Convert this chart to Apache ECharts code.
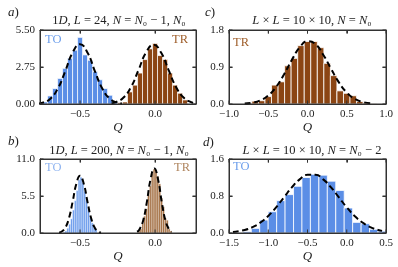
<!DOCTYPE html>
<html><head><meta charset="utf-8">
<script src="https://cdn.jsdelivr.net/npm/echarts@6.0.0/dist/echarts.min.js"></script>
<style>html,body{margin:0;padding:0;background:#fff}#c{width:398px;height:267px}</style>
</head><body><div id="c"></div>
<script>
// ---------- data ----------
// panel a (1D, L=24)
const aBinWidth = 1/30;
const aTOCenters = [-0.767,-0.733,-0.700,-0.667,-0.633,-0.600,-0.567,-0.533,-0.500,-0.467,-0.433,-0.400,-0.367,-0.333,-0.300,-0.267];
const aTOHeights = [0.05,0.15,0.6,1.15,1.9,2.65,3.4,4.0,4.95,3.65,3.25,2.4,1.8,1.15,0.65,0.2];
const aTRCenters = [-0.233,-0.200,-0.167,-0.133,-0.100,-0.067,-0.033,0.000,0.033,0.067,0.100,0.133,0.167,0.200];
const aTRHeights = [0.1,0.15,0.9,1.4,2.3,3.3,4.1,4.5,3.6,3.3,2.3,1.4,0.8,0.3];
const aTOCurveQ = [-0.78,-0.75,-0.7,-0.65,-0.6,-0.55,-0.5,-0.45,-0.4,-0.35,-0.3,-0.25,-0.22];
const aTOCurveP = [0.035,0.094,0.376,1.11,2.40,3.81,4.45,3.81,2.40,1.11,0.376,0.094,0.035];
const aTRCurveQ = [-0.29,-0.26,-0.21,-0.16,-0.11,-0.06,-0.01,0.04,0.09,0.14,0.19,0.24,0.27];
const aTRCurveP = [0.057,0.138,0.48,1.26,2.53,3.83,4.4,3.83,2.53,1.26,0.48,0.138,0.057];
// panel b (1D, L=200)
const bBinWidth = 0.0125;
const bTOCenters = [-0.60625,-0.59375,-0.58125,-0.56875,-0.55625,-0.54375,-0.53125,-0.51875,-0.50625,-0.49375,-0.48125,-0.46875,-0.45625,-0.44375,-0.43125,-0.41875,-0.40625,-0.39375];
const bTOHeights = [0.1,0.3,0.7,1.3,2.1,3.4,4.8,6.3,7.9,8.3,7.5,6.2,4.9,3.6,2.3,1.5,0.8,0.5];
const bTRCenters = [-0.10625,-0.09375,-0.08125,-0.06875,-0.05625,-0.04375,-0.03125,-0.01875,-0.00625,0.00625,0.01875,0.03125,0.04375,0.05625,0.06875,0.08125,0.09375,0.10625];
const bTRHeights = [0.3,0.6,1.4,2.5,3.6,5.6,7.0,8.8,9.5,9.2,8.4,7.3,5.2,3.9,2.2,1.9,0.6,0.3];
const bTOCurveQ = [-0.64,-0.625,-0.6,-0.575,-0.55,-0.525,-0.5,-0.475,-0.45,-0.425,-0.4,-0.375,-0.36];
const bTOCurveP = [0.067,0.18,0.72,2.12,4.59,7.29,8.5,7.29,4.59,2.12,0.72,0.18,0.067];
const bTRCurveQ = [-0.12,-0.105,-0.08,-0.055,-0.03,-0.005,0.02,0.045,0.07,0.095,0.11];
const bTRCurveP = [0.19,0.49,1.80,4.56,7.97,9.6,7.97,4.56,1.80,0.49,0.19];
// panel c (10x10, N=N0)
const cBinWidth = 1/12;
const cTRCenters = [-0.75,-0.667,-0.583,-0.5,-0.417,-0.333,-0.25,-0.167,-0.083,0,0.083,0.167,0.25,0.333,0.417,0.5,0.583,0.667,0.75,0.833];
const cTRHeights = [0.02,0.07,0.08,0.18,0.46,0.54,0.93,1.11,1.42,1.52,1.52,1.37,0.99,0.69,0.32,0.26,0.2,0.06,0.03,0.01];
const cCurveQ = [-0.8,-0.7,-0.6,-0.5,-0.4,-0.3,-0.2,-0.1,0,0.1,0.2,0.3,0.4,0.5,0.6,0.7,0.8];
const cCurveP = [0.011,0.033,0.089,0.207,0.416,0.717,1.07,1.375,1.525,1.46,1.20,0.857,0.525,0.279,0.127,0.050,0.017];
// panel d (10x10, N=N0-2)
const dBinWidth = 0.1076;
const dTOCenters = [-1.378,-1.270,-1.162,-1.055,-0.947,-0.839,-0.732,-0.624,-0.517,-0.409,-0.301,-0.194,-0.086,0.021,0.129,0.237,0.344,0.452];
const dTOHeights = [0.01,0.03,0.1,0.28,0.46,0.70,0.83,1.01,1.20,1.27,1.25,1.12,0.92,0.54,0.23,0.20,0.08,0.04];
const dCurveQ = [-1.45,-1.3,-1.2,-1.1,-1.0,-0.9,-0.8,-0.7,-0.6,-0.5,-0.4,-0.3,-0.2,-0.1,0.0,0.1,0.2,0.3,0.4,0.45];
const dCurveP = [0.0215,0.066,0.127,0.227,0.369,0.555,0.770,0.985,1.159,1.257,1.257,1.159,0.985,0.770,0.555,0.369,0.227,0.127,0.066,0.046];
// axes
const panelXRange = [[-0.767,0.273],[-0.767,0.273],[-1,1],[-1.5,0.5]];
const panelXTicks = [[-0.5,0.0],[-0.5,0.0],[-1,-0.5,0,0.5,1],[-1.5,-1,-0.5,0,0.5]];
const panelYMax = [5.5, 11, 1.8, 1.6];
const panelYStep = [2.75, 5.5, 0.9, 0.8];
const panelYTicks = [[0,2.75,5.5],[0,5.5,11],[0,0.9,1.8],[0,0.8,1.6]];
const panelYDigits = [2,1,1,1];

// ---------- chart ----------
const BLUE = '#5b8ee6', BROWN = '#8b4513';
const BLUE_L = '#6a9bec', BROWN_L = '#a06a3c';
const SERIF = '"Liberation Serif","DejaVu Serif",serif';
const FRAME = '#333';
const grids = [
  {left:40, top:30, width:156, height:74},
  {left:40, top:159, width:156, height:74},
  {left:229, top:30, width:157, height:74},
  {left:229, top:159, width:157, height:74}
];
const fmtX = v => (v < -1e-9 ? '\u2212' : '') + Math.abs(v).toFixed(1);
const xAxis = [], yAxis = [];
grids.forEach((g, i) => {
  const common = {type:'value', gridIndex:i, min:panelXRange[i][0], max:panelXRange[i][1],
    splitLine:{show:false},
    axisLine:{show:true, onZero:false, lineStyle:{color:FRAME, width:1}},
    axisTick:{show:true, inside:true, length:3.5, customValues:panelXTicks[i], lineStyle:{color:FRAME, width:1}}};
  xAxis.push(Object.assign({}, common, {position:'bottom',
    axisLabel:{show:true, customValues:panelXTicks[i], formatter:fmtX, fontFamily:SERIF, fontSize:11, color:'#222', margin:5},
    name:'Q', nameLocation:'middle', nameGap:15,
    nameTextStyle:{fontFamily:SERIF, fontStyle:'italic', fontSize:13, color:'#222'}}));
  xAxis.push(Object.assign({}, common, {position:'top', axisLabel:{show:false}}));
  const yc = {type:'value', gridIndex:i, min:0, max:panelYMax[i], interval:panelYStep[i],
    splitLine:{show:false},
    axisLine:{show:true, onZero:false, lineStyle:{color:FRAME, width:1}},
    axisTick:{show:true, inside:true, length:3.5, lineStyle:{color:FRAME, width:1}}};
  yAxis.push(Object.assign({}, yc, {position:'left',
    axisLabel:{show:true, formatter:v => v.toFixed(panelYDigits[i]), fontFamily:SERIF, fontSize:11, color:'#222', margin:5}}));
  yAxis.push(Object.assign({}, yc, {position:'right', axisLabel:{show:false}}));
});

function hist(gi, centers, heights, width, color, lw) {
  return {
    type:'custom', xAxisIndex:gi*2, yAxisIndex:gi*2, clip:true,
    data: centers.map((c, k) => [c - width/2, c + width/2, heights[k]]),
    encode:{x:[0,1], y:2},
    renderItem: function(params, api) {
      const p0 = api.coord([api.value(0), api.value(2)]);
      const p1 = api.coord([api.value(1), 0]);
      const cs = params.coordSys;
      const r = echarts.graphic.clipRectByRect(
        {x:p0[0], y:p0[1], width:p1[0]-p0[0], height:p1[1]-p0[1]},
        {x:cs.x, y:cs.y, width:cs.width, height:cs.height});
      if (!r) return null;
      return {type:'rect', shape:r, style:{fill:color, stroke:'#ffffff', lineWidth:lw}};
    }
  };
}
function curve(gi, qs, ps) {
  return {type:'line', xAxisIndex:gi*2, yAxisIndex:gi*2, smooth:true, showSymbol:false, clip:true,
    data: qs.map((q, k) => [q, ps[k]]), z:5,
    lineStyle:{color:'#000', width:2, type:[6,3.5]}};
}
// panel frame with inward ticks on all four sides, placed through the axes' scales
function frame(gi) {
  const TL = 3.5;
  return {
    type:'custom', xAxisIndex:gi*2, yAxisIndex:gi*2, clip:false, silent:true, z:6,
    data:[[panelXRange[gi][0], 0]],
    encode:{x:0, y:1},
    renderItem: function(params, api) {
      const cs = params.coordSys;
      const L = cs.x, T = cs.y, R = cs.x + cs.width, B = cs.y + cs.height;
      const st = {stroke:FRAME, lineWidth:1, fill:null};
      const children = [
        {type:'line', shape:{x1:L, y1:T, x2:R, y2:T}, style:st},
        {type:'line', shape:{x1:L, y1:B, x2:R, y2:B}, style:st},
        {type:'line', shape:{x1:L, y1:T, x2:L, y2:B}, style:st},
        {type:'line', shape:{x1:R, y1:T, x2:R, y2:B}, style:st}
      ];
      panelXTicks[gi].forEach(v => {
        const px = api.coord([v, 0])[0];
        children.push({type:'line', shape:{x1:px, y1:T, x2:px, y2:T + TL}, style:st});
        children.push({type:'line', shape:{x1:px, y1:B, x2:px, y2:B - TL}, style:st});
      });
      panelYTicks[gi].forEach(v => {
        const py = api.coord([panelXRange[gi][0], v])[1];
        children.push({type:'line', shape:{x1:L, y1:py, x2:L + TL, y2:py}, style:st});
        children.push({type:'line', shape:{x1:R, y1:py, x2:R - TL, y2:py}, style:st});
      });
      return {type:'group', children:children};
    }
  };
}
const series = [
  hist(0, aTOCenters, aTOHeights, aBinWidth, BLUE, 0.7),
  hist(0, aTRCenters, aTRHeights, aBinWidth, BROWN, 0.7),
  curve(0, aTOCurveQ, aTOCurveP), curve(0, aTRCurveQ, aTRCurveP),
  hist(1, bTOCenters, bTOHeights, bBinWidth, BLUE_L, 0.35),
  hist(1, bTRCenters, bTRHeights, bBinWidth, BROWN_L, 0.35),
  curve(1, bTOCurveQ, bTOCurveP), curve(1, bTRCurveQ, bTRCurveP),
  hist(2, cTRCenters, cTRHeights, cBinWidth, BROWN, 0.8),
  curve(2, cCurveQ, cCurveP),
  hist(3, dTOCenters, dTOHeights, dBinWidth, BLUE, 0.8),
  curve(3, dCurveQ, dCurveP),
  frame(0), frame(1), frame(2), frame(3)
];

const rich = {i:{fontStyle:'italic', fontFamily:SERIF, fontSize:12.5, color:'#222'}};
const richL = {i:{fontStyle:'italic', fontFamily:SERIF, fontSize:13, color:'#222'}};
function txt(text, x, y, opts, r) {
  return {type:'text', x:x, y:y, z:10, style:Object.assign({text:text, rich:r||rich, fontFamily:SERIF, fontSize:12.5, fill:'#222',
    align:'center', verticalAlign:'middle'}, opts||{})};
}
const textEls = [
  txt('{i|a})', 8, 13, {align:'left', fontSize:13}, richL),
  txt('{i|b})', 8, 142, {align:'left', fontSize:13}, richL),
  txt('{i|c})', 205, 13, {align:'left', fontSize:13}, richL),
  txt('{i|d})', 203, 143, {align:'left', fontSize:13}, richL),
  txt('1{i|D}, {i|L} = 24, {i|N} = {i|N}\u2080 \u2212 1, {i|N}\u2080', 119, 21),
  txt('1{i|D}, {i|L} = 200, {i|N} = {i|N}\u2080 \u2212 1, {i|N}\u2080', 119, 151),
  txt('{i|L} \u00d7 {i|L} = 10 \u00d7 10, {i|N} = {i|N}\u2080', 312, 21),
  txt('{i|L} \u00d7 {i|L} = 10 \u00d7 10, {i|N} = {i|N}\u2080 \u2212 2', 312, 151),
  txt('TO', 45, 40, {align:'left', fontSize:12.5, fill:'#6c9eeb'}),
  txt('TR', 188, 40, {align:'right', fontSize:12.5, fill:'#a0602d'}),
  txt('TO', 45, 168, {align:'left', fontSize:12.5, fill:'#8fb4f0'}),
  txt('TR', 190, 168, {align:'right', fontSize:12.5, fill:'#b08660'}),
  txt('TR', 233, 43, {align:'left', fontSize:12.5, fill:'#a0602d'}),
  txt('TO', 233, 167, {align:'left', fontSize:12.5, fill:'#6c9eeb'})
];

const chart = echarts.init(document.getElementById('c'), null, {renderer:'canvas'});
chart.setOption({animation:false, backgroundColor:'#fff', grid:grids, xAxis:xAxis, yAxis:yAxis, series:series, graphic:textEls});
</script></body></html>
